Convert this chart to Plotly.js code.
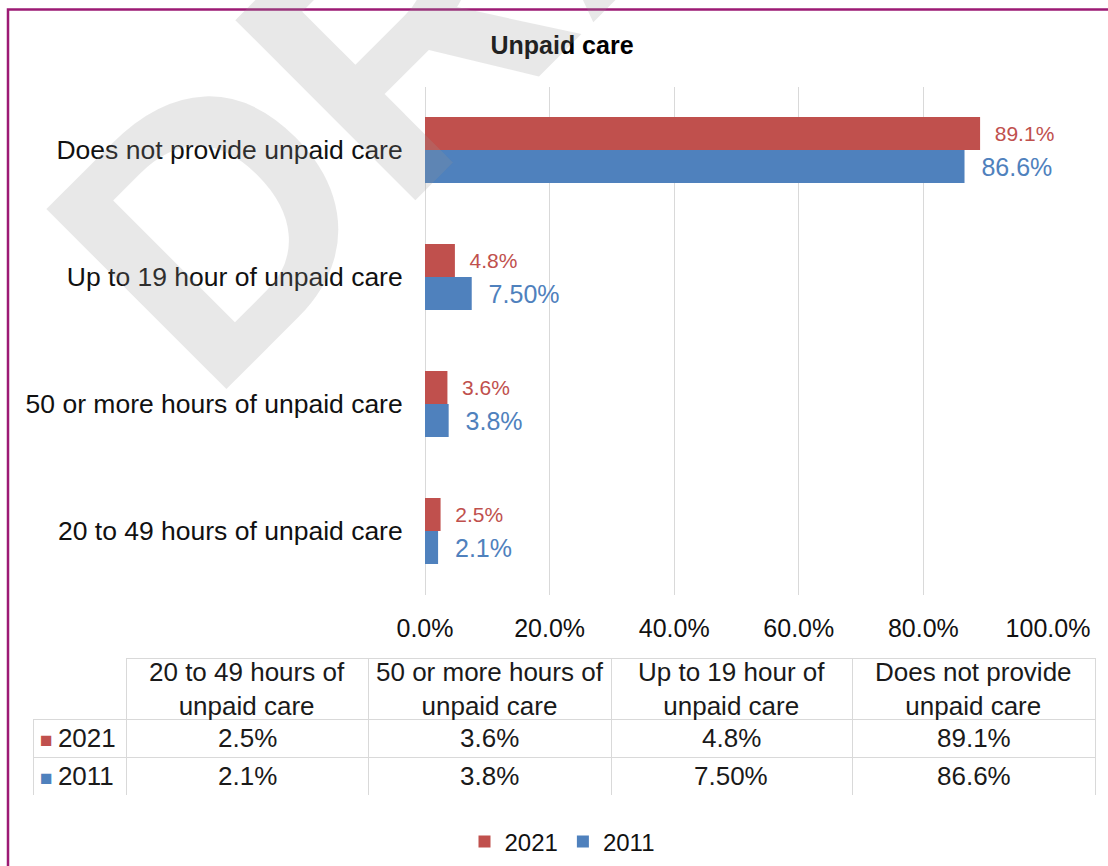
<!DOCTYPE html>
<html>
<head>
<meta charset="utf-8">
<script src="https://cdn.plot.ly/plotly-3.0.1.min.js"></script>
<style>html,body{margin:0;padding:0;background:#fff;}#chart{width:1108px;height:866px;}</style>
</head>
<body>
<div id="chart"></div>
<script>
// ---- data ----
var categories = ['20 to 49 hours of unpaid care', '50 or more hours of unpaid care', 'Up to 19 hour of unpaid care', 'Does not provide unpaid care'];
var tableHeaders = ['20 to 49 hours of<br>unpaid care', '50 or more hours of<br>unpaid care', 'Up to 19 hour of<br>unpaid care', 'Does not provide<br>unpaid care'];
var seriesNames = ['2021', '2011'];
var values2021 = [2.5, 3.6, 4.8, 89.1];
var values2011 = [2.1, 3.8, 7.5, 86.6];
var labels2021 = ['2.5%', '3.6%', '4.8%', '89.1%'];
var labels2011 = ['2.1%', '3.8%', '7.50%', '86.6%'];
var xTickVals = [0, 20, 40, 60, 80, 100];
var xTickText = ['0.0%', '20.0%', '40.0%', '60.0%', '80.0%', '100.0%'];

var RED = '#c0504d', BLUE = '#4f81bd';
var FONT = 'Liberation Sans, Arial, sans-serif';
var TXT = '#1a1a1a';
var W = 1108, H = 866;
function px(x) { return x / W; }
function py(y) { return 1 - y / H; }
var pad = '\u00a0\u00a0';

var t2011 = {
  type: 'bar', orientation: 'h', name: seriesNames[1],
  y: categories, x: values2011,
  text: labels2011.map(function (s) { return pad + s; }),
  textposition: 'outside', cliponaxis: false, constraintext: 'none',
  textfont: { family: FONT, size: 25, color: BLUE },
  marker: { color: BLUE }, hoverinfo: 'none'
};
var t2021 = {
  type: 'bar', orientation: 'h', name: seriesNames[0],
  y: categories, x: values2021,
  text: labels2021.map(function (s) { return pad + s; }),
  textposition: 'outside', cliponaxis: false, constraintext: 'none',
  textfont: { family: FONT, size: 21, color: RED },
  marker: { color: RED }, hoverinfo: 'none'
};

// ---- data table (grid from table trace, texts as annotations) ----
var tblLeft = 33, tblRight = 1095, tblTop = 658, tblBottom = 795, hdrH = 61, rowH = 38;
var colW = [93, 242, 243, 241, 243];
var rowLabels = seriesNames;
var rowColors = [RED, BLUE];
var rowValues = [labels2021, labels2011];

var table = {
  type: 'table',
  domain: { x: [px(tblLeft), px(tblRight)], y: [py(tblBottom), py(tblTop)] },
  columnwidth: colW,
  header: {
    values: colW.map(function () { return ''; }),
    height: hdrH,
    fill: { color: 'white' },
    line: { color: ['rgba(0,0,0,0)', '#d9d9d9', '#d9d9d9', '#d9d9d9', '#d9d9d9'], width: 1 },
    font: { family: FONT, size: 12, color: TXT }
  },
  cells: {
    values: colW.map(function () { return ['', '']; }),
    height: rowH,
    fill: { color: 'white' },
    line: { color: '#d9d9d9', width: 1 },
    font: { family: FONT, size: 12, color: TXT }
  }
};

var annotations = [];
var edges = [tblLeft];
for (var c = 0; c < colW.length; c++) edges.push(edges[c] + colW[c]);
function ann(text, xpx, ypx, xanchor) {
  annotations.push({
    text: text, showarrow: false, align: 'center',
    xref: 'paper', yref: 'paper', x: px(xpx), y: py(ypx),
    xanchor: xanchor || 'center', yanchor: 'middle',
    font: { family: FONT, size: 26, color: TXT }
  });
}
// header texts
for (var c = 1; c < colW.length; c++) {
  ann(tableHeaders[c - 1], (edges[c] + edges[c + 1]) / 2, tblTop + hdrH / 2);
}
// rows
for (var r = 0; r < rowLabels.length; r++) {
  var yc = tblTop + hdrH + rowH * r + rowH / 2;
  ann('<span style="color:' + rowColors[r] + ';font-size:21px">■</span>\u2009' + rowLabels[r], tblLeft + 5, yc, 'left');
  for (var c = 1; c < colW.length; c++) {
    ann(rowValues[r][c - 1], (edges[c] + edges[c + 1]) / 2, yc);
  }
}
// watermark
annotations.push({
  text: '<b>DRAFT</b>', showarrow: false,
  xref: 'paper', yref: 'paper', x: px(561), y: py(-128),
  xanchor: 'center', yanchor: 'middle', textangle: -45,
  font: { family: FONT, size: 370, color: 'rgba(150,150,150,0.22)' }
});

var layout = {
  width: W, height: H,
  margin: { l: 0, r: 0, t: 0, b: 0 },
  paper_bgcolor: 'white', plot_bgcolor: 'white',
  font: { family: FONT, color: '#000' },
  title: {
    text: '<b>Unpaid care</b>',
    font: { family: FONT, size: 25, color: '#000' },
    x: px(562), xref: 'paper', xanchor: 'center',
    y: py(45), yref: 'paper', yanchor: 'middle'
  },
  barmode: 'group', bargap: 0.48, bargroupgap: 0,
  xaxis: {
    domain: [px(425), px(1048)], range: [0, 100],
    tickvals: xTickVals, ticktext: xTickText,
    showgrid: true, gridcolor: '#d9d9d9', gridwidth: 1,
    zeroline: true, zerolinecolor: '#d9d9d9', zerolinewidth: 1,
    showline: false, ticks: 'outside', ticklen: 11, tickcolor: 'rgba(0,0,0,0)',
    tickfont: { family: FONT, size: 25, color: '#111' },
    fixedrange: true, automargin: false
  },
  yaxis: {
    domain: [py(594.5), py(86.5)],
    showgrid: false, zeroline: false, showline: false,
    ticks: 'outside', ticklen: 16, tickcolor: 'rgba(0,0,0,0)',
    tickfont: { family: FONT, size: 26.5, color: '#111' },
    fixedrange: true, automargin: false
  },
  showlegend: true,
  legend: {
    orientation: 'h', traceorder: 'reversed',
    x: px(562), xanchor: 'center', y: py(842), yanchor: 'middle',
    font: { family: FONT, size: 24, color: '#111' },
    itemwidth: 30, bgcolor: 'rgba(0,0,0,0)'
  },
  shapes: [{
    type: 'rect', xref: 'paper', yref: 'paper',
    x0: px(8), x1: 1.05, y0: -0.05, y1: py(9.5),
    line: { color: '#9c1a74', width: 2.5 }, fillcolor: 'rgba(0,0,0,0)', layer: 'above'
  }],
  annotations: annotations
};

Plotly.newPlot('chart', [t2011, t2021, table], layout, { displayModeBar: false, staticPlot: true });
</script>
</body>
</html>
